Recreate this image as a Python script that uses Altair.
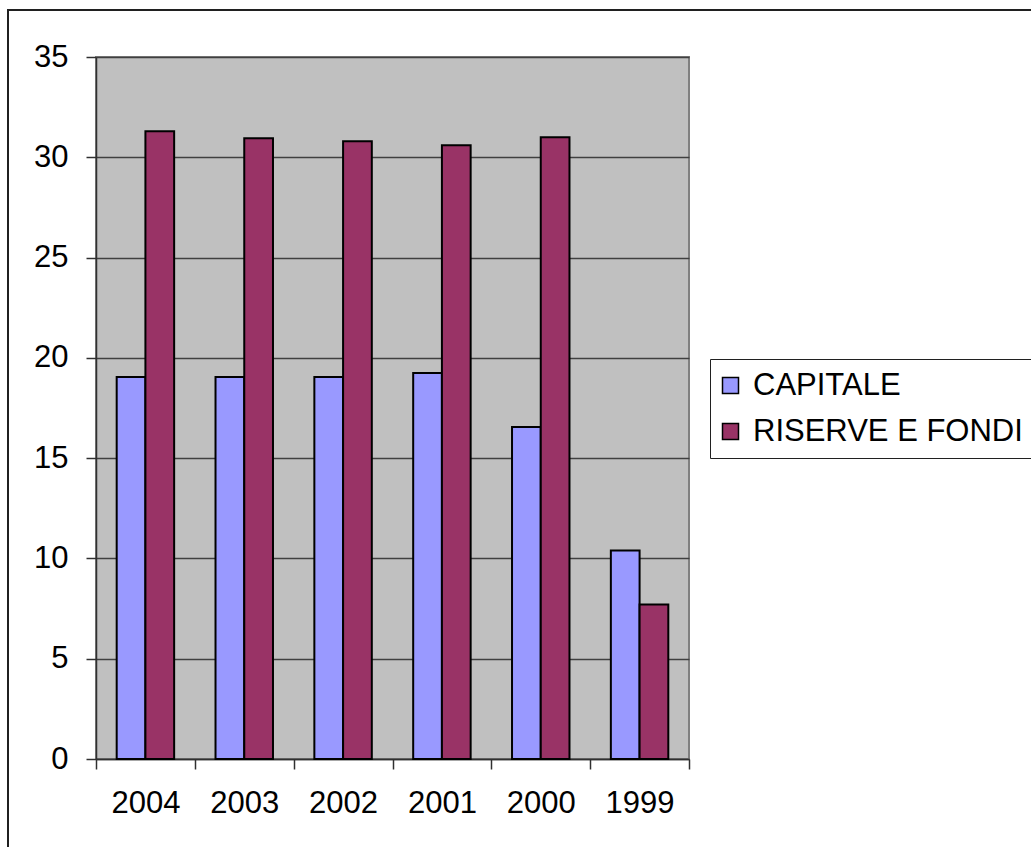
import altair as alt
import pandas as pd

# Years on the category axis, in display order
anni = ["2004", "2003", "2002", "2001", "2000", "1999"]
# Series values
capitale = [19.05, 19.05, 19.05, 19.25, 16.55, 10.4]
riserve_e_fondi = [31.3, 30.95, 30.8, 30.6, 31.0, 7.7]
serie = ["CAPITALE", "RISERVE E FONDI"]
colori = ["#9999FF", "#993366"]
y_ticks = [0, 5, 10, 15, 20, 25, 30, 35]

rows = []
for i, anno in enumerate(anni):
    rows.append({"anno": anno, "serie": serie[0], "valore": capitale[i]})
    rows.append({"anno": anno, "serie": serie[1], "valore": riserve_e_fondi[i]})
df = pd.DataFrame(rows)

FONT = "Liberation Sans, Arial, Helvetica, sans-serif"
FS = 31
W, H = 593, 702
PAD = {"left": 96, "top": 57, "right": 342, "bottom": 88}

bars = alt.Chart(df).mark_bar(stroke="black", strokeWidth=2).encode(
    x=alt.X(
        "anno:N",
        sort=anni,
        scale=alt.Scale(paddingInner=0, paddingOuter=0),
        axis=alt.Axis(
            title=None,
            labelAngle=0,
            tickBand="extent",
            tickSize=10,
            tickColor="#303030",
            tickWidth=1.5,
            domainColor="#303030",
            domainWidth=1.5,
            labelFontSize=FS,
            labelFont=FONT,
            labelColor="black",
            labelPadding=19,
            grid=False,
        ),
    ),
    # the gap between year groups comes from the outer padding of the offset scale
    xOffset=alt.XOffset(
        "serie:N", sort=serie, scale=alt.Scale(paddingInner=0, paddingOuter=0.72)
    ),
    y=alt.Y(
        "valore:Q",
        scale=alt.Scale(domain=[0, 35], nice=False),
        axis=alt.Axis(
            title=None,
            values=y_ticks,
            tickSize=10,
            tickColor="#303030",
            tickWidth=1.5,
            domainColor="#303030",
            domainWidth=1.5,
            labelFontSize=FS,
            labelFont=FONT,
            labelColor="black",
            labelPadding=18,
            grid=True,
            gridColor="#404040",
            gridWidth=1.3,
        ),
    ),
    color=alt.Color(
        "serie:N",
        sort=serie,
        scale=alt.Scale(domain=serie, range=colori),
        legend=alt.Legend(
            title=None,
            orient="none",
            legendX=614,
            legendY=302,
            symbolType="square",
            symbolSize=256,
            symbolStrokeColor="black",
            symbolStrokeWidth=1.5,
            symbolOffset=-6,
            labelFontSize=FS,
            labelFont=FONT,
            labelColor="black",
            labelOffset=7,
            labelLimit=400,
            rowPadding=14,
            padding=11,
            strokeColor="#202020",
            fillColor="white",
        ),
    ),
)

# Outer frame around the whole chart
frame = alt.Chart(pd.DataFrame({"k": [0]})).mark_rect(
    filled=False, stroke="#202020", strokeWidth=2
).encode(
    x=alt.value(-88),
    x2=alt.value(960),
    y=alt.value(-47),
    y2=alt.value(900),
)

chart = alt.layer(frame, bars).properties(
    width=W,
    height=H,
    autosize=alt.AutoSizeParams(type="none"),
    padding=PAD,
    background="white",
).configure_view(
    fill="#C0C0C0",
    stroke="#808080",
    strokeWidth=2,
)

chart.save("out.html", embed_options={"renderer": "svg", "actions": False})
